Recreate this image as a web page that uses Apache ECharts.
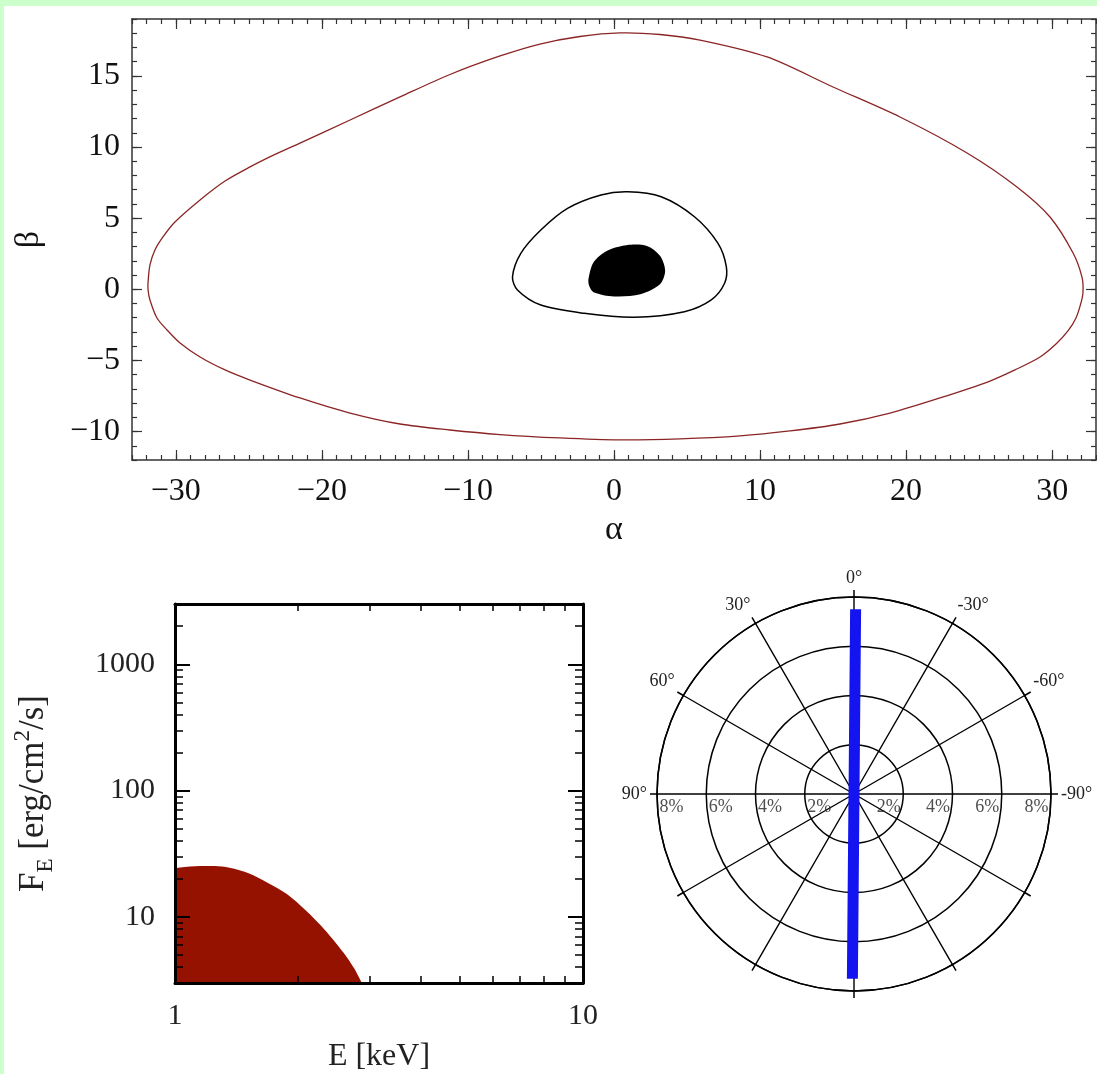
<!DOCTYPE html>
<html>
<head>
<meta charset="utf-8">
<title>Image plane, spectrum and polarization</title>
<script src="https://cdn.jsdelivr.net/npm/echarts@6/dist/echarts.min.js"></script>
<style>
  html, body { margin: 0; padding: 0; background: #ccffcc; }
  #chart { position: absolute; left: 4px; top: 6px; width: 1093px; height: 1068px; background: #fff; }
</style>
</head>
<body>
<div id="chart"></div>
<script>
// ---- top panel: image plane (alpha, beta), closed contours ----
const outerAlpha = [-31.90, -31.77, -31.43, -30.88, -30.06, -28.34, -26.63, -24.92, -23.21, -21.50, -18.07, -14.65, -11.23, -7.80, -5.07, -2.33, 0.41, 3.15, 5.89, 10.48, 14.99, 19.58, 24.17, 27.59, 29.85, 31.43, 32.04,
  32.11, 31.97, 31.63, 31.08, 30.26, 29.17, 27.45, 25.74, 22.32, 18.90, 15.47, 12.05, 8.63, 4.52, 0.41, -3.70, -7.80, -11.23, -14.65, -18.07, -21.50, -24.92, -26.63, -28.34, -29.71, -30.60, -31.29, -31.77, -31.90];
const outerBeta = [0.51, 1.71, 2.76, 3.68, 4.73, 6.28, 7.61, 8.60, 9.48, 10.28, 11.90, 13.52, 15.10, 16.40, 17.24, 17.77, 18.02, 17.91, 17.52, 16.33, 14.22, 12.11, 9.58, 7.19, 5.08, 2.55, 0.86,
  -0.19, -0.96, -2.02, -2.93, -3.85, -4.76, -5.67, -6.45, -7.64, -8.70, -9.47, -9.96, -10.31, -10.52, -10.59, -10.45, -10.21, -9.89, -9.47, -8.70, -7.64, -6.38, -5.67, -4.76, -3.78, -2.86, -2.02, -0.75, -0.05];

const innerAlpha = [-6.95, -6.38, -5.01, -3.18, -0.89, 0.94, 3.23, 5.51, 7.12, 7.69, 7.57, 6.66, 4.82, 1.39, -2.04, -5.01, -6.61];
const innerBeta = [0.88, 2.53, 4.17, 5.69, 6.63, 6.86, 6.51, 5.10, 3.23, 1.59, 0.42, -0.75, -1.58, -1.97, -1.69, -1.11, -0.05];

const diskAlpha = [-1.75, -1.4, -0.5, 0.85, 2.25, 3.15, 3.5, 3.15, 1.8, 0.0, -1.4, -1.7];
const diskBeta = [0.7, 1.9, 2.7, 3.1, 3.05, 2.35, 1.3, 0.35, -0.35, -0.5, -0.2, 0.25];

const alphaTicks = [-30, -20, -10, 0, 10, 20, 30];
const betaTicks = [-10, -5, 0, 5, 10, 15];

// ---- bottom left: spectrum ----
const energy = [1.0, 1.03, 1.15, 1.25, 1.36, 1.52, 1.69, 1.88, 2.09, 2.33, 2.59, 2.75, 2.87];
const flux = [24.3, 24.6, 25.3, 25.3, 24.5, 22.1, 18.6, 15.2, 11.3, 7.9, 5.2, 3.9, 3.0];
const energyMinor = [2, 3, 4, 5, 6, 7, 8, 9];
const fluxMinor = [4, 5, 6, 7, 8, 9, 20, 30, 40, 50, 60, 70, 80, 90, 200, 300, 400, 500, 600, 700, 800, 900, 2000, 3000];

// ---- bottom right: polarization ----
const polDegree = [7.5];
const polAngle = [-0.5];
const ringTicks = [2, 4, 6, 8];

const alphaMinor = [];
for (let v = -33; v <= 33; v++) alphaMinor.push(v);
const betaMinor = [];
for (let v = -12; v <= 19; v++) betaMinor.push(v);

const serif = 'Liberation Serif';
const frameGrey = '#333';
const minus = v => (v < 0 ? '\u2212' + Math.abs(v) : String(v));

function zip(a, b) { return a.map((v, i) => [v, b[i]]); }

// tick-only / framed axis
function axis(o) {
  const base = {
    type: o.type || 'value',
    gridIndex: o.grid,
    position: o.pos,
    min: o.min,
    max: o.max,
    z: 10,
    splitLine: { show: false },
    axisLine: { show: !!o.line, onZero: false, lineStyle: { color: o.color, width: o.lineWidth } },
    axisTick: { show: true, inside: true, length: o.len, lineStyle: { color: o.color, width: o.tickWidth || 1.2 } },
    axisLabel: { show: false }
  };
  if (o.ticks) base.axisTick.customValues = o.ticks;
  return Object.assign(base, o.extra || {});
}

// closed contour through the cartesian scales
function contour(xs, ys, style) {
  return {
    type: 'custom', xAxisIndex: 0, yAxisIndex: 0,
    data: [[xs[0], ys[0]]],
    renderItem: function (params, api) {
      const pts = xs.map((a, i) => api.coord([a, ys[i]]));
      return { type: 'polygon', shape: { points: pts, smooth: 0.3 }, style: style };
    }
  };
}

const chart = echarts.init(document.getElementById('chart'));

const topX = { grid: 0, min: -33, max: 33, color: frameGrey, lineWidth: 1.5 };
const topY = { grid: 0, min: -12, max: 19, color: frameGrey, lineWidth: 1.5 };
const botX = { grid: 1, type: 'log', min: 1, max: 10, color: '#000', lineWidth: 3 };
const botY = { grid: 1, type: 'log', min: 3, max: 3000, color: '#000', lineWidth: 3 };
const m = (a, b) => Object.assign({}, a, b);

const option = {
  animation: false,
  backgroundColor: '#fff',
  grid: [
    { left: 128, top: 13, width: 964, height: 441, containLabel: false, outerBoundsMode: 'none' },
    { left: 171, top: 598, width: 408, height: 379, containLabel: false, outerBoundsMode: 'none' }
  ],
  polar: { center: [850, 788], radius: 197 },
  xAxis: [
    axis(m(topX, { pos: 'bottom', line: true, len: 10, ticks: alphaTicks, extra: {
      axisLabel: { show: true, customValues: alphaTicks, formatter: minus, margin: 16, fontFamily: serif, fontSize: 32, color: '#111' },
      name: '\u03b1', nameLocation: 'middle', nameGap: 53,
      nameTextStyle: { fontFamily: serif, fontSize: 34, color: '#111' }
    } })),
    axis(m(topX, { pos: 'bottom', len: 5, ticks: alphaMinor })),
    axis(m(topX, { pos: 'top', line: true, len: 10, ticks: alphaTicks })),
    axis(m(topX, { pos: 'top', len: 5, ticks: alphaMinor })),
    axis(m(botX, { pos: 'bottom', line: true, len: 14, tickWidth: 2, extra: {
      axisLabel: { show: true, margin: 18, fontFamily: serif, fontSize: 30, color: '#222', formatter: v => String(Math.round(v)) },
      name: 'E [keV]', nameLocation: 'middle', nameGap: 58,
      nameTextStyle: { fontFamily: serif, fontSize: 32, color: '#222' }
    } })),
    axis(m(botX, { pos: 'bottom', len: 7, ticks: energyMinor, tickWidth: 1.5 })),
    axis(m(botX, { pos: 'top', line: true, len: 14, tickWidth: 2 })),
    axis(m(botX, { pos: 'top', len: 7, ticks: energyMinor, tickWidth: 1.5 }))
  ],
  yAxis: [
    axis(m(topY, { pos: 'left', line: true, len: 10, ticks: betaTicks, extra: {
      axisLabel: { show: true, customValues: betaTicks, formatter: minus, margin: 12, fontFamily: serif, fontSize: 32, color: '#111' },
      name: '\u03b2', nameLocation: 'middle', nameGap: 86, nameRotate: 90,
      nameTextStyle: { fontFamily: serif, fontSize: 34, color: '#111' }
    } })),
    axis(m(topY, { pos: 'left', len: 5, ticks: betaMinor })),
    axis(m(topY, { pos: 'right', line: true, len: 10, ticks: betaTicks })),
    axis(m(topY, { pos: 'right', len: 5, ticks: betaMinor })),
    axis(m(botY, { pos: 'left', line: true, len: 15, tickWidth: 2, extra: {
      axisLabel: { show: true, margin: 20, fontFamily: serif, fontSize: 30, color: '#222', showMinLabel: false, showMaxLabel: false, formatter: v => String(Math.round(v)) },
      name: '{m|F}{s|E}{m| [erg/cm}{p|2}{m|/s]}', nameLocation: 'middle', nameGap: 118, nameRotate: 90,
      nameTextStyle: {
        fontFamily: serif, fontSize: 35, color: '#222',
        rich: {
          m: { fontFamily: serif, fontSize: 35, lineHeight: 46, color: '#222', verticalAlign: 'middle' },
          s: { fontFamily: serif, fontSize: 23, lineHeight: 23, color: '#222', verticalAlign: 'bottom' },
          p: { fontFamily: serif, fontSize: 23, lineHeight: 23, color: '#222', verticalAlign: 'top' }
        }
      }
    } })),
    axis(m(botY, { pos: 'left', len: 8, ticks: fluxMinor, tickWidth: 1.5 })),
    axis(m(botY, { pos: 'right', line: true, len: 15, tickWidth: 2 })),
    axis(m(botY, { pos: 'right', len: 8, ticks: fluxMinor, tickWidth: 1.5 }))
  ],
  angleAxis: {
    type: 'value', min: 0, max: 360, interval: 30, startAngle: 90, clockwise: false,
    axisLine: { show: true, lineStyle: { color: '#000', width: 1.5 } },
    axisTick: { show: true, inside: false, length: 7, lineStyle: { color: '#000', width: 1.5 } },
    splitLine: { show: true, lineStyle: { color: '#000', width: 1.4 } },
    axisLabel: {
      margin: 10, fontFamily: serif, fontSize: 18, color: '#222',
      formatter: v => {
        if (v <= 90) return v + '\u00b0';
        if (v >= 270 && v < 360) return (v - 360) + '\u00b0';
        return '';
      }
    }
  },
  radiusAxis: {
    type: 'value', min: 0, max: 8, interval: 2,
    axisLine: { show: false }, axisTick: { show: false }, axisLabel: { show: false },
    splitLine: { show: true, lineStyle: { color: '#000', width: 1.5 } }
  },
  series: [
    contour(outerAlpha, outerBeta, { fill: 'none', stroke: '#8b2525', lineWidth: 1.3 }),
    contour(innerAlpha, innerBeta, { fill: 'none', stroke: '#000', lineWidth: 1.5 }),
    contour(diskAlpha, diskBeta, { fill: '#000' }),
    {
      type: 'line', xAxisIndex: 4, yAxisIndex: 4, data: zip(energy, flux),
      showSymbol: false, smooth: 0.3,
      lineStyle: { width: 0 }, areaStyle: { color: '#961200', opacity: 1 }
    },
    {
      type: 'line', coordinateSystem: 'polar',
      data: [[polDegree[0], (polAngle[0] + 360) % 360], [0, 0], [polDegree[0], polAngle[0] + 180]],
      showSymbol: false, lineStyle: { color: '#1414f0', width: 11, cap: 'butt' }, z: 5
    },
    {
      type: 'scatter', coordinateSystem: 'polar', symbolSize: 1,
      itemStyle: { color: 'rgba(0,0,0,0)' },
      data: ringTicks.map(r => [r, 90]),
      label: { show: true, formatter: p => p.value[0] + '%', position: [3, 5], align: 'left', verticalAlign: 'top',
        fontFamily: serif, fontSize: 18, color: '#222' }
    },
    {
      type: 'scatter', coordinateSystem: 'polar', symbolSize: 1,
      itemStyle: { color: 'rgba(0,0,0,0)' },
      data: ringTicks.map(r => [r, 270]),
      label: { show: true, formatter: p => p.value[0] + '%', position: [-2, 5], align: 'right', verticalAlign: 'top',
        fontFamily: serif, fontSize: 18, color: '#222' }
    }
  ]
};

chart.setOption(option);
</script>
</body>
</html>
